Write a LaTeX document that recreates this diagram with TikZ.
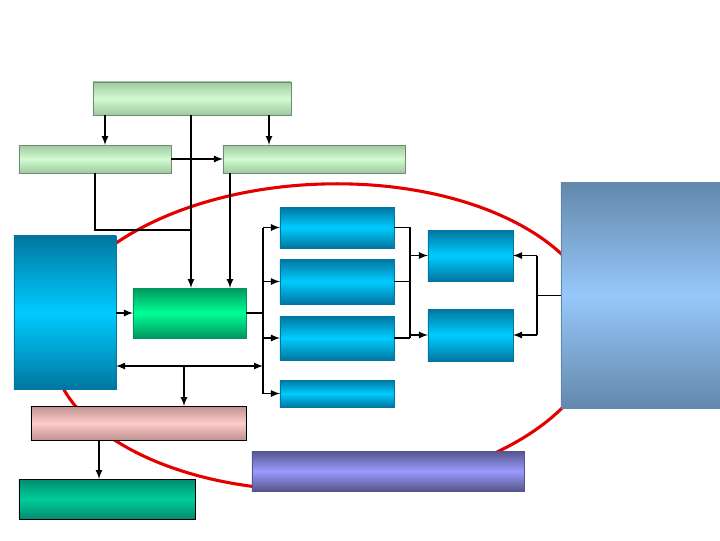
\documentclass[tikz,border=0pt]{standalone}
\usepackage{tikz}
\usetikzlibrary{arrows}

\definecolor{greenedge}{RGB}{160,200,160}
\definecolor{greenmid}{RGB}{208,252,208}
\definecolor{blueedge}{RGB}{0,118,160}
\definecolor{bluemid}{RGB}{0,204,255}
\definecolor{mintedge}{RGB}{0,150,95}
\definecolor{mintmid}{RGB}{0,255,150}
\definecolor{steeledge}{RGB}{100,136,172}
\definecolor{steelmid}{RGB}{150,200,250}
\definecolor{pinkedge}{RGB}{190,145,145}
\definecolor{pinkmid}{RGB}{255,204,204}
\definecolor{tealedge}{RGB}{0,140,110}
\definecolor{tealmid}{RGB}{0,204,153}
\definecolor{violetedge}{RGB}{85,85,140}
\definecolor{violetmid}{RGB}{155,155,255}

\begin{document}
\begin{tikzpicture}[x=0.025cm, y=-0.025cm, >=latex,
		box_style/.style={rectangle,inner sep=0pt,outer sep=0pt,line width=0.4pt},
		pale_style/.style={box_style,draw=greenedge!70!black,top color=greenedge,bottom color=greenedge,middle color=greenmid},
		cyan_style/.style={box_style,draw=blueedge,top color=blueedge,bottom color=blueedge,middle color=bluemid},
		mint_style/.style={box_style,draw=mintedge,top color=mintedge,bottom color=mintedge,middle color=mintmid},
		steel_style/.style={box_style,draw=steeledge,top color=steeledge,bottom color=steeledge,middle color=steelmid},
		pink_style/.style={box_style,draw=black,top color=pinkedge,bottom color=pinkedge,middle color=pinkmid},
		teal_style/.style={box_style,draw=black,top color=tealedge,bottom color=tealedge,middle color=tealmid},
		violet_style/.style={box_style,draw=violetedge,top color=violetedge,bottom color=violetedge,middle color=violetmid},
		edge_style/.style={draw=black,line width=1.2pt}]

		\useasboundingbox (0,0) rectangle (720,540);

		% red ring behind everything
		\draw[red!90!black, line width=2.2pt, rotate around={2:(325,337)}] (325,337) ellipse [x radius=274, y radius=153];

		\node[pale_style, minimum width=4.95cm, minimum height=0.825cm] (n_top) at (192,98.5) {};
		\node[pale_style, minimum width=3.8cm, minimum height=0.7cm] (n_l2) at (95,159) {};
		\node[pale_style, minimum width=4.55cm, minimum height=0.7cm] (n_r2) at (314,159) {};
		\node[cyan_style, minimum width=2.55cm, minimum height=3.825cm] (n_tall) at (65,312.5) {};
		\node[mint_style, minimum width=2.825cm, minimum height=1.25cm] (n_grn) at (189.5,313) {};
		\node[cyan_style, minimum width=2.85cm, minimum height=1.025cm] (n_b1) at (337,227.5) {};
		\node[cyan_style, minimum width=2.85cm, minimum height=1.125cm] (n_b2) at (337,281.5) {};
		\node[cyan_style, minimum width=2.85cm, minimum height=1.1cm] (n_b3) at (337,338) {};
		\node[cyan_style, minimum width=2.85cm, minimum height=0.675cm] (n_b4) at (337,393.5) {};
		\node[cyan_style, minimum width=2.125cm, minimum height=1.275cm] (n_c1) at (470.5,255.5) {};
		\node[cyan_style, minimum width=2.125cm, minimum height=1.3cm] (n_c2) at (470.5,335) {};
		\node[steel_style, minimum width=3.975cm, minimum height=5.625cm] (n_big) at (640.5,295.5) {};
		\node[pink_style, minimum width=5.375cm, minimum height=0.85cm] (n_pink) at (138.5,423) {};
		\node[teal_style, minimum width=4.4cm, minimum height=1cm] (n_teal) at (107,499) {};
		\node[violet_style, minimum width=6.8cm, minimum height=1cm] (n_violet) at (388,471) {};

		% where the lines run
		\coordinate (va) at (105,0);
		\coordinate (vb) at (269,0);
		\coordinate (vc) at (191,0);
		\coordinate (ve) at (230,0);
		\coordinate (vf) at (184,0);
		\coordinate (vg) at (99,0);
		\coordinate (bus) at (263,0);
		\coordinate (jn) at (410,0);
		\coordinate (jr) at (537,0);
		\coordinate (hj) at (0,230);
		\coordinate (hb) at (0,366);

		\draw[edge_style,->]  (va |- n_top.south) -- (va |- n_l2.north);
		\draw[edge_style,->]  (vb |- n_top.south) -- (vb |- n_r2.north);
		\draw[edge_style,->]  (vc |- n_top.south) -- (vc |- n_grn.north);
		\draw[edge_style,->]  (n_l2.east) -- (n_r2.west);
		\draw[edge_style]  (n_l2.south) |- (vc |- hj);
		\draw[edge_style,->]  (ve |- n_r2.south) -- (ve |- n_grn.north);
		\draw[edge_style,->]  (n_tall.east |- n_grn) -- (n_grn.west);

		\draw[edge_style]  (n_grn.east) -- (bus |- n_grn.east);
		\draw[edge_style]  (bus |- n_b1) -- (bus |- n_b4);
		\draw[edge_style,->]  (bus |- n_b1) -- (n_b1.west);
		\draw[edge_style,->]  (bus |- n_b2) -- (n_b2.west);
		\draw[edge_style,->]  (bus |- n_b3) -- (n_b3.west);
		\draw[edge_style,->]  (bus |- n_b4) -- (n_b4.west);
		\draw[edge_style,<->]  (n_tall.east |- hb) -- (bus |- hb);
		\draw[edge_style,->]  (vf |- hb) -- (vf |- n_pink.north);

		\draw[edge_style]  (n_b1.east) -| (jn |- n_b3);
		\draw[edge_style]  (n_b2.east) -- (jn |- n_b2);
		\draw[edge_style]  (n_b3.east) -- (jn |- n_b3);
		\draw[edge_style,->]  (jn |- n_c1) -- (n_c1.west);
		\draw[edge_style,->]  (jn |- n_c2) -- (n_c2.west);

		\draw[edge_style]  (n_big.west) -- (jr |- n_big);
		\draw[edge_style]  (jr |- n_c1) -- (jr |- n_c2);
		\draw[edge_style,->]  (jr |- n_c1) -- (n_c1.east);
		\draw[edge_style,->]  (jr |- n_c2) -- (n_c2.east);

		\draw[edge_style,->]  (vg |- n_pink.south) -- (vg |- n_teal.north);

\end{tikzpicture}
\end{document}
